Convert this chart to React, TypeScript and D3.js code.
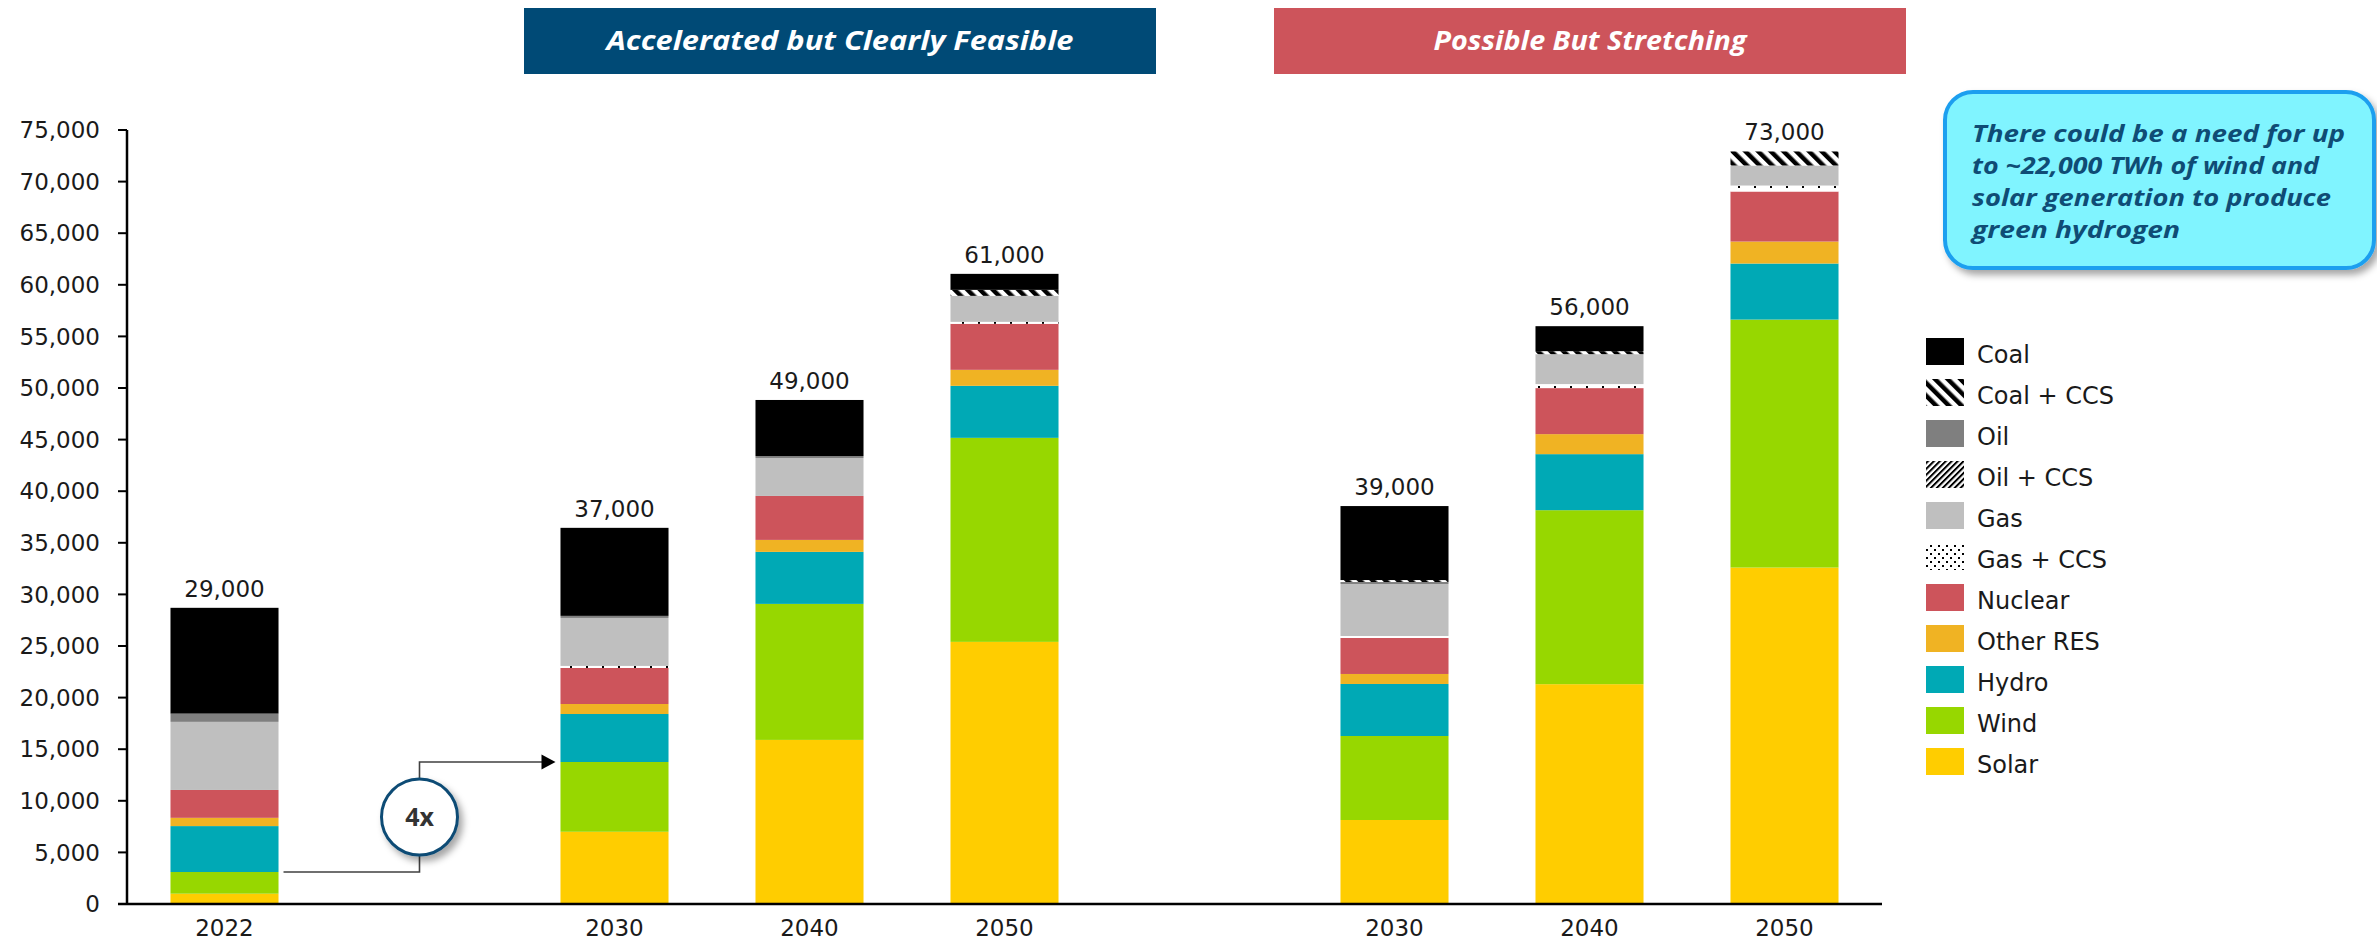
import React from "react";
import * as d3 from "d3";

// ---------- data ----------
const categories = ["2022", "gapA", "A2030", "A2040", "A2050", "gapB", "P2030", "P2040", "P2050"];
const barKeys = ["2022", "A2030", "A2040", "A2050", "P2030", "P2040", "P2050"];
const yearLabels = ["2022", "2030", "2040", "2050", "2030", "2040", "2050"];
const totalLabels = ["29,000", "37,000", "49,000", "61,000", "39,000", "56,000", "73,000"];

const solar = [1000, 7000, 15900, 25400, 8140, 21300, 32600];
const wind = [2100, 6760, 13180, 19770, 8140, 16860, 24030];
const hydro = [4450, 4650, 5040, 5040, 5040, 5430, 5430];
const otherRES = [800, 970, 1160, 1550, 970, 1940, 2130];
const nuclear = [2700, 3490, 4260, 4460, 3490, 4460, 4850];
const gasCCS = [0, 200, 0, 190, 190, 390, 580];
const gas = [6600, 4650, 3680, 2520, 5040, 2900, 1940];
const oilCCS = [0, 0, 0, 0, 0, 0, 0];
const oil = [800, 200, 190, 0, 190, 0, 0];
const coalCCS = [0, 0, 0, 580, 190, 290, 1360];
const coal = [10250, 8530, 5430, 1550, 7170, 2420, 0];

const seriesNames = ["Solar", "Wind", "Hydro", "Other RES", "Nuclear", "Gas + CCS", "Gas", "Oil + CCS", "Oil", "Coal + CCS", "Coal"];
const seriesValues = [solar, wind, hydro, otherRES, nuclear, gasCCS, gas, oilCCS, oil, coalCCS, coal];
const legendOrder = ["Coal", "Coal + CCS", "Oil", "Oil + CCS", "Gas", "Gas + CCS", "Nuclear", "Other RES", "Hydro", "Wind", "Solar"];
const yTicks = d3.range(0, 75001, 5000);

const headerA = "Accelerated but Clearly Feasible";
const headerB = "Possible But Stretching";
const noteLines = [
  "There could be a need for up",
  "to ~22,000 TWh of wind and",
  "solar generation to produce",
  "green hydrogen",
];
const growthLabel = "4x";

// ---------- styles ----------
const fills: Record<string, string> = {
  Solar: "#FFCD00",
  Wind: "#97D700",
  Hydro: "#00A9B5",
  "Other RES": "#F0B323",
  Nuclear: "#CD545B",
  "Gas + CCS": "url(#pGasCCS)",
  Gas: "#BFBFBF",
  "Oil + CCS": "url(#pOilCCS)",
  Oil: "#7F7F7F",
  "Coal + CCS": "url(#pCoalCCS)",
  Coal: "#000000",
};

const numFont = "'DejaVu Sans', sans-serif";
const boldFont = "'Open Sans', 'DejaVu Sans', sans-serif";

export default function App() {
  const W = 2377;
  const H = 942;

  const x = d3
    .scaleBand<string>()
    .domain(categories)
    .range([127, 1882])
    .paddingInner(0.446)
    .paddingOuter(0.223);
  const y = d3.scaleLinear().domain([0, 75000]).range([904, 130]);

  const rows = barKeys.map((k, i) => {
    const r: any = { key: k };
    seriesNames.forEach((s, j) => (r[s] = seriesValues[j][i]));
    return r;
  });
  const stacked = d3.stack<any>().keys(seriesNames)(rows);
  const totals = barKeys.map((_, i) => seriesValues.reduce((a, s) => a + s[i], 0));

  const bw = x.bandwidth();

  // connector annotation from scales
  const x0 = (x("2022") as number) + bw + 5;
  const x1 = (x("A2030") as number) - 5;
  const y0 = y(solar[0] + wind[0]);
  const y1 = y(solar[1] + wind[1]);
  const cx = ((x("2022") as number) + bw + (x("A2030") as number)) / 2;
  const cy = (y0 + y1) / 2;

  return (
    <div style={{ position: "absolute", left: 0, top: 0, width: W, height: H, background: "#fff" }}>
      <svg width={W} height={H} style={{ display: "block" }}>
        <defs>
          <pattern id="pCoalCCS" width="9" height="9" patternUnits="userSpaceOnUse" patternTransform="rotate(-45)">
            <rect width="9" height="9" fill="#fff" />
            <rect width="4.5" height="9" fill="#000" />
          </pattern>
          <pattern id="pOilCCS" width="4.2" height="4.2" patternUnits="userSpaceOnUse" patternTransform="rotate(45)">
            <rect width="4.2" height="4.2" fill="#fff" />
            <rect width="2" height="4.2" fill="#000" />
          </pattern>
          <pattern id="pGasCCS" width="16" height="16" patternUnits="userSpaceOnUse">
            <rect width="16" height="16" fill="#fff" />
            <rect x="2" y="2" width="2" height="2" fill="#000" />
            <rect x="10" y="10" width="2" height="2" fill="#000" />
            <rect x="2" y="10" width="2" height="2" fill="#000" opacity="0" />
          </pattern>
          <pattern id="pGasCCSLegend" width="8" height="8" patternUnits="userSpaceOnUse">
            <rect width="8" height="8" fill="#fff" />
            <rect x="2" y="1" width="2" height="2" fill="#000" />
            <rect x="6" y="5" width="2" height="2" fill="#000" />
          </pattern>
          <filter id="shadow" x="-20%" y="-20%" width="150%" height="150%">
            <feDropShadow dx="4" dy="5" stdDeviation="3.5" floodColor="#000" floodOpacity="0.35" />
          </filter>
        </defs>

        {/* header boxes */}
        <rect x={524} y={8} width={632} height={66} fill="#004A76" />
        <text
          x={840}
          y={50}
          textAnchor="middle"
          fill="#fff"
          fontFamily={boldFont}
          fontWeight={700}
          fontStyle="italic"
          fontSize={27}
          textLength={467}
          lengthAdjust="spacingAndGlyphs"
        >
          {headerA}
        </text>
        <rect x={1274} y={8} width={632} height={66} fill="#CD545B" />
        <text
          x={1590}
          y={50}
          textAnchor="middle"
          fill="#fff"
          fontFamily={boldFont}
          fontWeight={700}
          fontStyle="italic"
          fontSize={27}
          textLength={313}
          lengthAdjust="spacingAndGlyphs"
        >
          {headerB}
        </text>

        {/* bars */}
        {stacked.map((layer, li) => (
          <g key={seriesNames[li]} fill={fills[seriesNames[li]]}>
            {layer.map((d, i) => {
              const h = y(d[0]) - y(d[1]);
              if (h <= 0) return null;
              return (
                <rect
                  key={barKeys[i]}
                  x={x(barKeys[i]) as number}
                  y={y(d[1])}
                  width={bw}
                  height={h}
                />
              );
            })}
          </g>
        ))}

        {/* total labels */}
        {barKeys.map((k, i) => (
          <text
            key={k}
            x={(x(k) as number) + bw / 2}
            y={y(totals[i]) - 11}
            textAnchor="middle"
            fontFamily={numFont}
            fontSize={23}
            fill="#1a1a1a"
          >
            {totalLabels[i]}
          </text>
        ))}

        {/* y axis */}
        <line x1={127} x2={127} y1={y(75000)} y2={y(0)} stroke="#000" strokeWidth={2.5} />
        {yTicks.map((t) => (
          <g key={t}>
            <line x1={118} x2={127} y1={y(t)} y2={y(t)} stroke="#000" strokeWidth={2} />
            <text
              x={100}
              y={y(t)}
              dy="0.36em"
              textAnchor="end"
              fontFamily={numFont}
              fontSize={23}
              fill="#1a1a1a"
            >
              {d3.format(",")(t)}
            </text>
          </g>
        ))}
        {/* x axis */}
        <line x1={118} x2={1882} y1={y(0)} y2={y(0)} stroke="#000" strokeWidth={2.5} />
        {barKeys.map((k, i) => (
          <text
            key={k}
            x={(x(k) as number) + bw / 2}
            y={936}
            textAnchor="middle"
            fontFamily={numFont}
            fontSize={23}
            fill="#1a1a1a"
          >
            {yearLabels[i]}
          </text>
        ))}

        {/* growth connector */}
        <path
          d={`M${x0},${y0} H${cx} V${y1} H${x1 - 12}`}
          fill="none"
          stroke="#404040"
          strokeWidth={1.6}
        />
        <polygon points={`${x1},${y1} ${x1 - 14},${y1 - 7.5} ${x1 - 14},${y1 + 7.5}`} fill="#000" />
        <circle cx={cx} cy={cy} r={38} fill="#fff" stroke="#0F4C75" strokeWidth={3} filter="url(#shadow)" />
        <text
          x={cx}
          y={cy}
          dy="0.36em"
          textAnchor="middle"
          fontFamily={boldFont}
          fontWeight={700}
          fontSize={25}
          fill="#333"
        >
          {growthLabel}
        </text>

        {/* legend */}
        {legendOrder.map((name, i) => {
          const top = 338 + i * 41;
          const fill = name === "Gas + CCS" ? "url(#pGasCCSLegend)" : fills[name];
          return (
            <g key={name}>
              <rect x={1926} y={top} width={38} height={27} fill={fill} />
              <text x={1977} y={top + 25} fontFamily={numFont} fontSize={24} fill="#1a1a1a">
                {name}
              </text>
            </g>
          );
        })}

        {/* note box */}
        <rect
          x={1945}
          y={92}
          width={429}
          height={176}
          rx={28}
          ry={28}
          fill="#80F4FF"
          stroke="#1E9FEF"
          strokeWidth={4}
          filter="url(#shadow)"
        />
        {noteLines.map((line, i) => (
          <text
            key={i}
            x={1972}
            y={142 + i * 32}
            fontFamily={boldFont}
            fontWeight={700}
            fontStyle="italic"
            fontSize={24}
            fill="#0F4C75"
            textLength={[373, 347, 359, 208][i]}
            lengthAdjust="spacingAndGlyphs"
          >
            {line}
          </text>
        ))}
      </svg>
    </div>
  );
}
